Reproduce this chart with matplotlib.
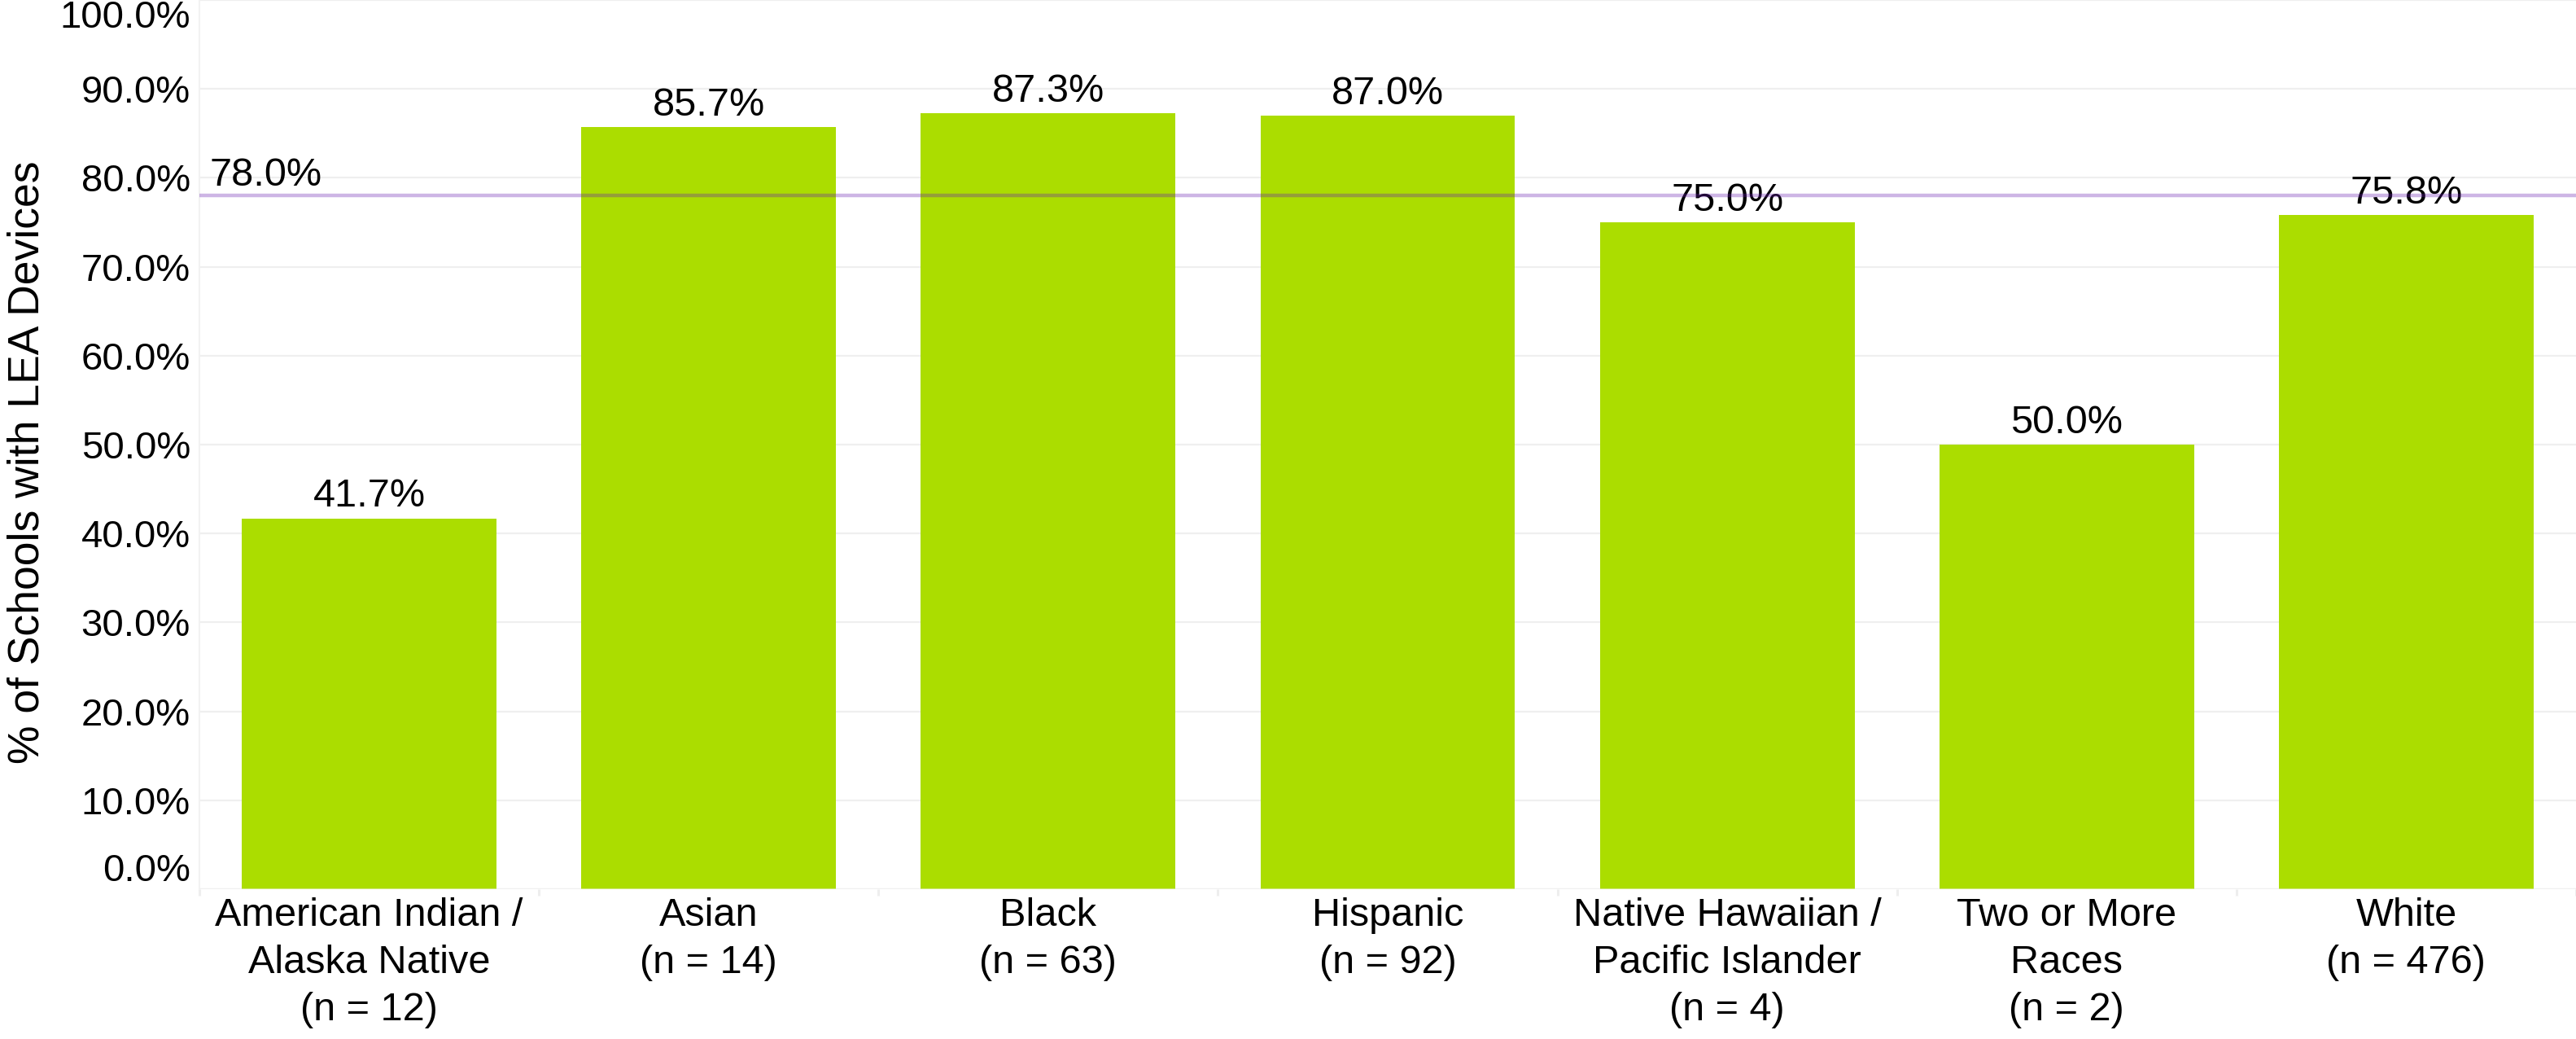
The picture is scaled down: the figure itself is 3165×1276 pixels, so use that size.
import matplotlib
matplotlib.use("Agg")
import matplotlib.pyplot as plt
from matplotlib.ticker import FixedLocator

# ---- data ----
groups = ["American Indian /\nAlaska Native", "Asian", "Black", "Hispanic",
          "Native Hawaiian /\nPacific Islander", "Two or More\nRaces", "White"]
n_counts = [12, 14, 63, 92, 4, 2, 476]
pct_values = [41.7, 85.7, 87.3, 87.0, 75.0, 50.0, 75.8]
overall_avg = 78.0
y_ticks = [0, 10, 20, 30, 40, 50, 60, 70, 80, 90, 100]
y_title = "% of Schools with LEA Devices"

tick_labels = [f"{g}\n(n = {n})" for g, n in zip(groups, n_counts)]

plt.rcParams['font.family'] = ['Liberation Sans', 'DejaVu Sans']

W, H = 3165, 1276
fig = plt.figure(figsize=(W / 100, H / 100), dpi=100)
left = 245 / W
bottom = (H - 1092) / H
ax = fig.add_axes([left, bottom, 1 - left, 1 - bottom])

x = list(range(len(groups)))
bar_color = "#ABDD00"
ax.bar(x, pct_values, width=0.75, color=bar_color, zorder=2)

ax.set_xlim(-0.5, len(groups) - 0.5)
ax.set_ylim(0, 100)

# grid
ax.set_yticks(y_ticks)
ax.set_yticklabels([f"{t:.1f}%" for t in y_ticks])
ax.yaxis.grid(True, color="#efefef", lw=1.6, zorder=0)
ax.set_axisbelow(True)
ax.tick_params(axis='y', length=0, pad=8, labelsize=34, labelcolor="black")
ylabs = ax.get_yticklabels()
ylabs[-1].set_verticalalignment('top')
ylabs[0].set_verticalalignment('bottom')

# x ticks
ax.set_xticks(x)
ax.set_xticklabels(tick_labels)
ax.tick_params(axis='x', which='major', length=0, pad=7, labelsize=35, labelcolor="black")
for lab in ax.get_xticklabels():
    lab.set_linespacing(1.38)
ax.xaxis.set_minor_locator(FixedLocator([i - 0.5 for i in range(len(groups) + 1)]))
ax.tick_params(axis='x', which='minor', length=6, width=2.2, color="#eeeeee")

for s in ["top", "right"]:
    ax.spines[s].set_visible(False)
ax.spines["bottom"].set_visible(False)
ax.spines["left"].set_color("#f2f2f2")
ax.spines["left"].set_linewidth(1.5)
ax.axhline(0, color="#f0f0f0", lw=2.2, alpha=0.5, zorder=3)

# value labels
for xi, v in zip(x, pct_values):
    ax.annotate(f"{v:.1f}%", (xi, v), xytext=(0, 3), textcoords="offset points",
                ha="center", va="bottom", fontsize=35, color="black", zorder=2)

# average line
ax.axhline(overall_avg, color="#6a1fb0", alpha=0.33, lw=3.2, zorder=4)
ax.annotate(f"{overall_avg:.1f}%", (-0.5, overall_avg), xytext=(9, 1.5),
            textcoords="offset points", ha="left", va="bottom", fontsize=35,
            color="black", zorder=5)

fig.text(34 / W, 0.555, y_title, rotation=90, ha="center", va="center",
         fontsize=38.5, color="black")

fig.savefig("out.png", dpi=100, facecolor="white")
